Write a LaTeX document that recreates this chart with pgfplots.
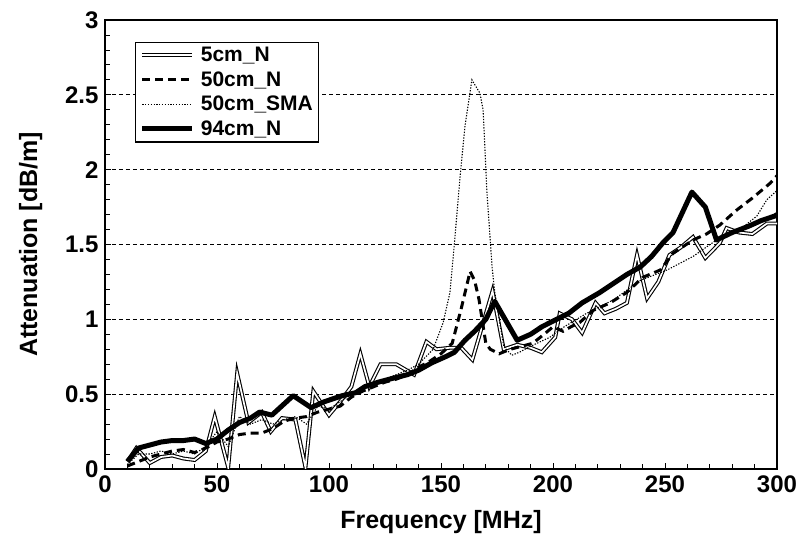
\documentclass[border=0pt]{standalone}
\usepackage{pgfplots}
\pgfplotsset{compat=1.18}
\usepackage{fontspec}
\setmainfont{Liberation Sans}
\newcommand{\lbl}{\fontsize{24}{28}\selectfont\bfseries}
\newcommand{\leg}{\fontsize{21}{25}\selectfont\bfseries}
\begin{document}
\begin{tikzpicture}
\begin{axis}[
  scale only axis,
  width=672pt, height=449pt,
  xmin=0, xmax=300, ymin=0, ymax=3,
  xtick={0,50,...,300}, minor x tick num=4,
  ytick={0,0.5,...,3}, minor y tick num=4,
  yticklabels={0,0.5,1,1.5,2,2.5,3},
  tick align=inside, xtick pos=bottom, ytick pos=left,
  major tick length=6pt, minor tick length=5pt,
  every tick/.style={black, line width=0.8pt},
  axis line style={line width=1.6pt},
  ymajorgrids,
  major grid style={black, line width=0.7pt, dash pattern=on 4pt off 3pt},
  /pgf/number format/assume math mode=true,
  tick label style={font=\lbl},
  xticklabel style={yshift=-3pt},
  yticklabel style={xshift=-3pt},
  label style={font=\fontsize{25}{29}\selectfont\bfseries},
  xlabel={Frequency [MHz]},
  ylabel={Attenuation [dB/m]},
  xlabel style={yshift=-11pt},
  ylabel style={yshift=16pt},
  legend style={at={(0.045,0.952)}, anchor=north west, draw=black,
    line width=1.2pt, fill=white, font=\leg, row sep=4.5pt, column sep=4pt,
    inner xsep=4pt, inner ysep=3pt},
  legend cell align=left,
  legend image code/.code={\draw[#1] (0pt,0pt) -- (50pt,0pt);},
]
\addplot[black, line width=1.1pt, double=white, double distance=1.7pt, line join=miter] coordinates {
(10,0.05) (14,0.14) (20,0.04) (25,0.08) (30,0.09) (35,0.07) (40,0.06) (45,0.12)
(49,0.35) (55,0.01) (59,0.64) (64,0.31) (70,0.38) (74,0.25) (79,0.34) (85,0.33)
(89.5,0.01) (93,0.52) (100,0.36) (105,0.45) (110,0.55) (114,0.77) (118,0.55)
(123,0.70) (130,0.70) (138,0.63) (143.5,0.85) (148,0.80) (154,0.81) (159,0.81)
(164,0.73) (173,1.19) (178,0.80) (184,0.83) (190,0.81) (195,0.78) (201,0.88)
(203,1.04) (208.5,1.00) (213,0.91) (219,1.11) (223,1.04) (228,1.07) (233,1.11)
(237.5,1.43) (242,1.14) (247,1.25) (252,1.43) (257,1.48) (262.5,1.55) (268,1.41)
(274.5,1.51) (277.5,1.61) (283,1.58) (289,1.57) (295.5,1.64) (300,1.64)
};
\addlegendentry{5cm\_N}
\addplot[black, line width=3pt, dash pattern=on 8pt off 5pt] coordinates {
(10,0.02) (15,0.05) (20,0.08) (25,0.10) (30,0.12) (35,0.13) (40,0.11) (45,0.14)
(50,0.18) (55,0.20) (60,0.23) (65,0.24) (70,0.24) (75,0.27) (80,0.32) (85,0.34)
(90,0.35) (95,0.38) (100,0.40) (105,0.42) (110,0.48) (115,0.52) (120,0.55)
(125,0.58) (130,0.60) (135,0.63) (140,0.68) (145,0.72) (150,0.77) (155,0.84)
(159,1.07) (163,1.32) (165,1.26) (167,1.13) (170,0.84) (172,0.80) (176,0.77)
(181,0.80) (186,0.82) (191,0.84) (196,0.90) (200,0.95) (204.5,0.92) (208,0.95)
(212,0.98) (218,1.06) (225.5,1.11) (233,1.18) (240,1.28) (248,1.33) (253.5,1.44)
(262.5,1.53) (268.5,1.57) (274.5,1.63) (282,1.73) (289,1.81) (297,1.91) (300,1.96)
};
\addlegendentry{50cm\_N}
\addplot[black, line width=1.1pt, dash pattern=on 1.3pt off 1.5pt] coordinates {
(10,0.03) (15,0.10) (20,0.10) (25,0.12) (30,0.10) (35,0.12) (40,0.10) (45,0.15)
(50,0.25) (55,0.15) (60,0.35) (65,0.30) (70,0.33) (75,0.30) (80,0.33) (85,0.35)
(90,0.30) (95,0.42) (100,0.40) (105,0.45) (110,0.50) (115,0.55) (120,0.56)
(125,0.60) (130,0.63) (135,0.66) (140,0.70) (146.5,0.80) (151,0.98) (154,1.18)
(156,1.51) (158.5,1.95) (160.7,2.29) (163.8,2.60) (167.4,2.51) (168.8,2.40)
(170.5,1.85) (172.8,1.35) (174,1.18) (178,0.82) (181.6,0.76) (185,0.78) (190,0.82)
(198.6,0.88) (205,0.95) (215,1.04) (227,1.13) (239,1.26) (251,1.33) (262.5,1.42)
(273,1.53) (283.5,1.60) (291,1.69) (295.5,1.80) (300,1.86)
};
\addlegendentry{50cm\_SMA}
\addplot[black, line width=5pt, line join=round] coordinates {
(10,0.05) (15,0.14) (20,0.16) (25,0.18) (30,0.19) (35,0.19) (40,0.20) (45,0.17)
(50,0.20) (55,0.26) (60,0.31) (65,0.34) (69,0.38) (74.5,0.36) (84,0.49) (92,0.41)
(98,0.45) (106,0.49) (112,0.51) (116,0.55) (122,0.58) (129.5,0.61) (135,0.63)
(140,0.66) (146,0.71) (152,0.75) (156,0.78) (160.7,0.86) (165,0.92) (170,1.00)
(174,1.12) (184,0.86) (190,0.90) (195,0.95) (201.6,1.00) (207,1.04) (213,1.11)
(221,1.18) (227,1.24) (233,1.30) (239,1.35) (244,1.42) (249,1.51) (253.6,1.58)
(262,1.85) (268,1.75) (273,1.53) (280,1.58) (287,1.62) (293,1.66) (299,1.69) (300,1.70)
};
\addlegendentry{94cm\_N}
\coordinate (bl) at (rel axis cs:-0.15625,-0.1737);
\coordinate (tr) at (rel axis cs:1.0372,1.0445);
\end{axis}
\pgfresetboundingbox
\useasboundingbox (bl) rectangle (tr);
\end{tikzpicture}
\end{document}
